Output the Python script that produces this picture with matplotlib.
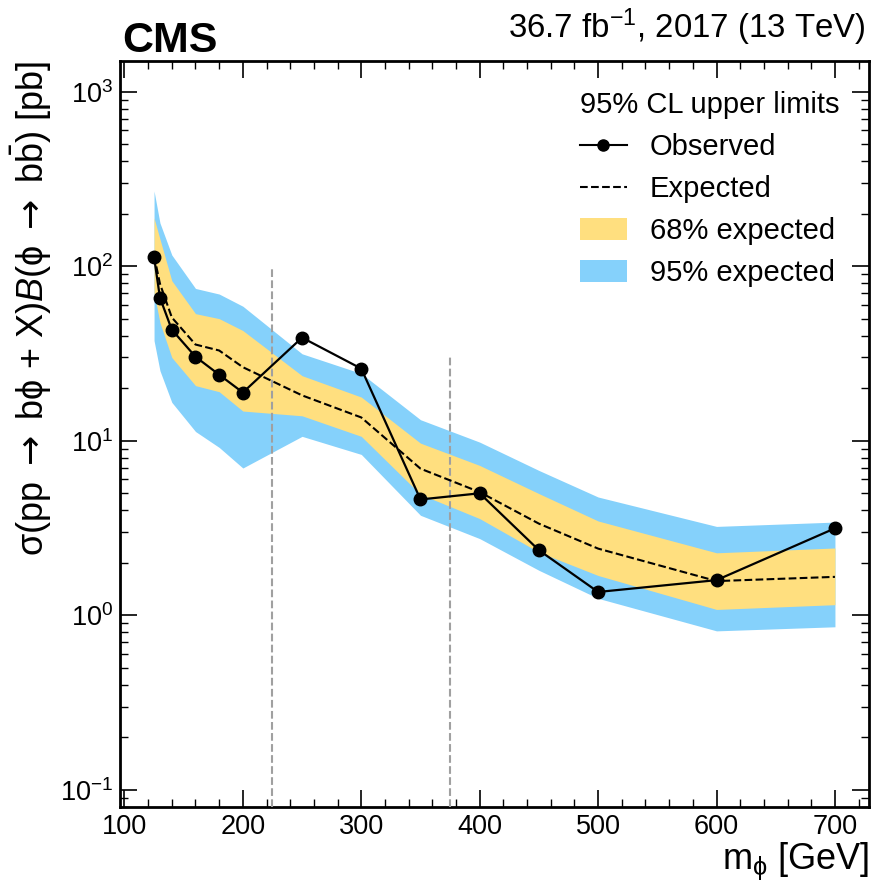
import numpy as np
import matplotlib
matplotlib.use("Agg")
import matplotlib.pyplot as plt
from matplotlib.ticker import MultipleLocator, LogLocator, NullFormatter
from matplotlib.lines import Line2D
from matplotlib.patches import Patch

# ---------------- data ----------------
mass = [125, 130, 140, 160, 180, 200, 250, 300, 350, 400, 450, 500, 600, 700]
observed = [113, 66, 43.3, 30.3, 23.9, 18.9, 39, 25.9, 4.61, 5.0, 2.36, 1.36, 1.59, 3.15]
expected = [115, 79.4, 50.9, 35.6, 32.9, 26.4, 18.2, 13.6, 6.92, 5.08, 3.35, 2.41, 1.57, 1.66]
exp68_up = [189, 143, 82.6, 53.5, 50.1, 42.8, 23.6, 17.8, 9.69, 7.22, 4.98, 3.47, 2.28, 2.43]
exp68_down = [70.5, 47.5, 30.0, 20.7, 19.1, 14.8, 13.9, 10.6, 4.93, 3.58, 2.30, 1.69, 1.08, 1.15]
exp95_up = [270, 177, 116, 74.6, 69.3, 59.0, 31.5, 24.3, 13.2, 9.82, 6.76, 4.76, 3.23, 3.42]
exp95_down = [37.5, 25.2, 16.6, 11.3, 9.16, 6.98, 10.6, 8.35, 3.74, 2.75, 1.81, 1.25, 0.814, 0.859]
vline_x = [225, 375]
vline_top = [100, 30]
x_ticks = [100, 200, 300, 400, 500, 600, 700]

# ---------------- style ----------------
plt.rcParams['font.family'] = ['Liberation Sans', 'DejaVu Sans']
plt.rcParams['mathtext.fontset'] = 'custom'
plt.rcParams['mathtext.rm'] = 'Liberation Sans'
plt.rcParams['mathtext.it'] = 'Liberation Sans:italic'
plt.rcParams['mathtext.bf'] = 'Liberation Sans:bold'
plt.rcParams['mathtext.sf'] = 'DejaVu Sans'
plt.rcParams['mathtext.default'] = 'regular'
plt.rcParams['mathtext.fallback'] = 'stixsans'

YELLOW = '#FFDF7F'
BLUE = '#85D1FB'

W, H = 873, 884
fig = plt.figure(figsize=(W / 100, H / 100), dpi=100)
ax_l, ax_r, ax_t, ax_b = 120, 869, 61, 806.7
ax = fig.add_axes([ax_l / W, 1 - ax_b / H, (ax_r - ax_l) / W, (ax_b - ax_t) / H])

ax.fill_between(mass, exp95_down, exp95_up, color=BLUE, lw=0, zorder=1)
ax.fill_between(mass, exp68_down, exp68_up, color=YELLOW, lw=0, zorder=2)
ax.vlines(vline_x, 0.08, vline_top, colors='#a0a0a0', linestyles='--', lw=1.5, zorder=3)
ax.plot(mass, expected, color='k', ls='--', lw=1.5, zorder=4)
ax.plot(mass, observed, color='k', ls='-', lw=1.6, marker='o', ms=9, zorder=5)

ax.set_yscale('log')
ax.set_xlim(96.25, 728.75)
ax.set_ylim(0.08, 1500)

ax.set_xticks(x_ticks)
ax.xaxis.set_minor_locator(MultipleLocator(20))
ax.yaxis.set_major_locator(LogLocator(base=10, numticks=20))
ax.yaxis.set_minor_locator(LogLocator(base=10, subs=np.arange(2, 10), numticks=50))
ax.yaxis.set_minor_formatter(NullFormatter())

ax.tick_params(which='both', direction='in', top=True, right=True)
ax.tick_params(which='major', length=12, width=1.2, labelsize=19.5)
ax.tick_params(which='minor', length=6, width=1.0)
ax.tick_params(axis='x', which='major', pad=5)
ax.tick_params(axis='y', which='major', pad=5)
for sp in ax.spines.values():
    sp.set_linewidth(2)

ax.set_xlabel(r'm$_{\phi}$ [GeV]', fontsize=26, loc='right')
ax.xaxis.set_label_coords(1.0, -0.045)
ax.set_ylabel(r'$\sigma$(pp $\mathsf{\rightarrow}$ b$\phi$ + X)$\mathit{B}$($\phi$ $\mathsf{\rightarrow}$ b$\bar{\mathrm{b}}$) [pb]',
              fontsize=26, loc='top')
ax.yaxis.set_label_coords(-0.088, 1.0)

fig.text(122 / W, 1 - 51.5 / H, 'CMS', fontsize=31, fontweight='bold', va='baseline', ha='left')
fig.text(866 / W, 1 - 38.5 / H, r'36.7 fb$^{-1}$, 2017 (13 TeV)', fontsize=23.8, va='baseline', ha='right')

handles = [
    Line2D([], [], color='k', lw=1.5, marker='o', ms=8),
    Line2D([], [], color='k', lw=1.5, ls='--'),
    Patch(facecolor=YELLOW, edgecolor='none'),
    Patch(facecolor=BLUE, edgecolor='none'),
]
labels = ['Observed', 'Expected', '68% expected', '95% expected']
leg = ax.legend(handles, labels, title='95% CL upper limits', loc='upper left',
                bbox_to_anchor=((580 - ax_l) / (ax_r - ax_l), (ax_b - 91) / (ax_b - ax_t)),
                frameon=False, fontsize=21, title_fontsize=21, borderpad=0, borderaxespad=0,
                handlelength=1.6, handleheight=0.75, handletextpad=0.8, labelspacing=0.48,
                alignment='left')

fig.savefig('out.png', dpi=100)
